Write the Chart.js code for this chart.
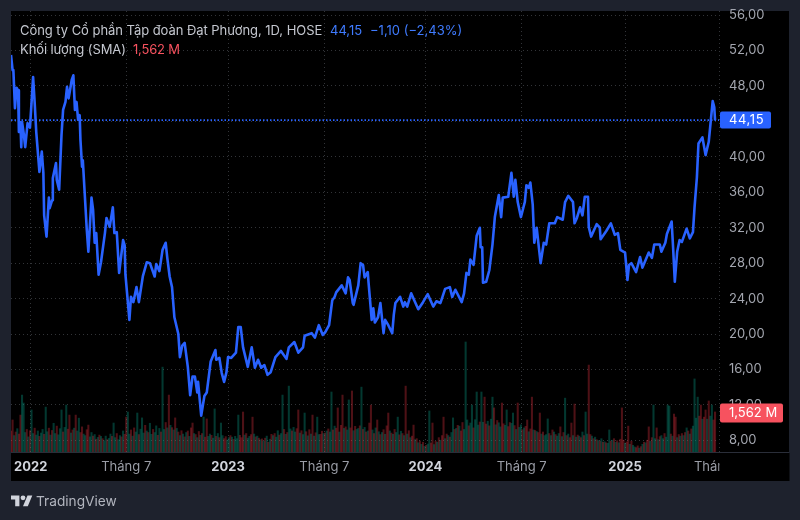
<!DOCTYPE html>
<html lang="vi">
<head>
<meta charset="utf-8">
<title>DPG</title>
<script src="https://cdn.jsdelivr.net/npm/chart.js@4"></script>
<style>
html,body{margin:0;padding:0;width:800px;height:520px;overflow:hidden;background:#1e222d;font-family:Inter,"Noto Sans",sans-serif}
#panel{position:absolute;left:11px;top:11px;width:778px;height:470px;background:#000}
canvas{position:absolute;left:0;top:0}
.t{position:absolute;font-size:13px;line-height:18px;white-space:nowrap;color:#c4c7cf}
#logo{position:absolute;left:11px;top:492.6px}
#brand{position:absolute;left:36px;top:491px;font-size:13.7px;line-height:20px;color:#b2b5be}
</style>
</head>
<body>
<div id="panel"></div>
<canvas id="c" width="800" height="520"></canvas>
<div class="t" style="left:20px;top:21px;letter-spacing:-0.05px">Công ty Cổ phần Tập đoàn Đạt Phương, 1D, HOSE</div>
<div class="t" style="left:330px;top:21px;color:#3f7bff">44,15</div>
<div class="t" style="left:370px;top:21px;color:#3f7bff">−1,10 (−2,43%)</div>
<div class="t" style="left:20px;top:40px;letter-spacing:-0.1px">Khối lượng (SMA)</div>
<div class="t" style="left:133px;top:40px;color:#f7525f;letter-spacing:-0.2px">1,562 M</div>
<svg id="logo" width="21.6" height="16.8" viewBox="0 0 36 28"><path fill="#d1d4dc" d="M14 22H7V11H0V4h14v18zM28 22h-8l7.5-18h8L28 22z"/><circle fill="#d1d4dc" cx="20" cy="8" r="4"/></svg>
<div id="brand">TradingView</div>
<script>
// Session index on the time axis (0 = first session of 2022)
const timeTicks  = [0, 121, 250, 372, 500, 622, 753, 872];
const timeLabels = ['2022', 'Tháng 7', '2023', 'Tháng 7', '2024', 'Tháng 7', '2025', 'Tháng 7'];
const priceTicks = [8, 12, 16, 20, 24, 28, 32, 36, 40, 44, 48, 52, 56];
const currentPrice = 44.15;

const priceDays = [
-25,-23,-22,-20,-18,-16,-15,-13,-12,-11,-9,-7,-4,-1,1,3,5,7,11,14,16,17,20,23,24,27,28,32,33,36,
39,41,44,46,48,52,54,56,58,60,62,63,65,66,71,73,77,79,81,83,86,89,94,96,100,104,106,109,112,117,
119,120,125,127,130,134,137,142,147,151,157,159,163,167,171,173,176,179,182,187,189,192,195,199,202,205,208,211,212,216,
220,223,228,234,235,239,242,245,248,250,254,260,263,266,269,275,280,284,288,292,296,300,304,310,317,324,327,334,339,345,
347,356,360,365,370,373,378,382,385,387,394,399,402,404,408,409,415,418,421,423,427,428,432,434,436,440,443,447,449,453,
458,460,462,468,472,474,477,482,487,491,497,503,510,514,519,525,531,534,538,546,549,552,555,557,561,565,569,570,572,573,
577,581,585,588,593,596,598,605,609,612,614,617,621,626,628,631,633,636,638,641,646,650,653,657,664,667,674,677,681,687,
689,692,696,699,702,706,707,710,717,721,722,729,735,740,744,747,753,756,758,761,767,772,775,783,787,790,797,799,804,806,
812,814,816,819,822,825,831,835,839,841,844,846,851,855,859,864,866,867];
const priceValues = [
51.5,49.8,49.8,45.5,47.8,47.5,42.8,43.9,41.1,43.9,42.7,41.1,43.8,43.3,46.1,49.0,46.1,42.8,38.3,40.6,38.2,33.4,31.0,35.4,34.2,35.1,37.6,39.3,37.4,36.3,
42.5,45.3,46.2,47.9,46.6,48.7,49.2,45.3,46.2,44.2,44.7,41.9,38.9,39.6,31.8,29.3,35.4,34.0,30.3,31.4,26.7,28.1,31.4,33.1,32.1,34.3,31.4,31.5,26.9,30.6,
30.0,26.7,21.6,24.2,23.6,25.3,23.6,26.5,28.1,28.0,26.5,27.9,27.1,29.5,30.3,28.6,26.5,25.3,21.9,20.0,17.4,18.7,19.0,16.3,13.1,15.2,15.2,13.4,14.6,10.8,
13.0,13.4,16.9,18.2,17.1,17.3,15.6,14.6,15.7,17.4,17.3,17.9,20.8,20.8,18.5,16.3,18.5,16.2,17.1,16.2,16.5,15.4,15.7,17.4,18.1,17.2,18.5,19.1,17.9,18.5,
19.8,20.1,19.6,21.0,19.9,20.2,21.0,23.8,24.2,24.7,25.5,24.6,26.4,26.1,23.5,23.3,25.5,28.0,27.8,26.4,27.0,25.8,21.6,22.9,21.3,21.9,23.5,20.1,21.6,21.0,
20.1,22.2,23.5,24.2,23.1,23.6,23.1,24.6,23.6,22.8,23.6,24.5,23.1,23.7,23.5,25.1,25.3,24.2,25.0,23.6,24.6,26.9,26.7,28.4,27.8,31.1,32.0,29.8,29.8,25.8,
25.9,27.2,30.1,33.2,35.7,33.2,35.4,35.5,38.2,35.5,37.4,34.9,33.2,34.9,36.8,36.5,37.1,34.6,30.3,32.0,28.0,30.3,30.1,32.5,32.5,33.2,32.9,34.9,35.6,34.9,
32.5,33.1,34.3,33.4,35.5,35.5,32.1,31.0,32.4,32.0,30.7,31.6,32.5,31.2,31.4,29.5,29.2,26.1,27.8,28.0,27.0,28.7,27.5,29.2,28.6,30.1,30.1,29.3,30.3,31.3,
32.7,29.5,25.9,29.3,30.6,30.4,31.9,30.8,31.5,34.3,37.7,41.5,42.2,40.2,41.7,46.3,45.6,44.15];

// Volume in thousand shares, every second session; negative = down day (red)
const volumeSigned = [
-820,-1250,640,-780,910,-700,-1440,2220,1910,760,-880,590,-830,1640,720,-930,660,820,-610,740,
880,-690,1750,790,-930,660,-840,1120,720,-1010,670,910,1640,-780,960,1830,-890,-1440,740,-860,
930,-1440,820,1320,-760,-980,700,640,-870,-1050,590,760,-620,680,-500,570,-660,610,-520,440,
620,-480,530,700,-610,1130,560,-720,480,640,-590,820,-690,-1360,1560,700,-860,620,-940,780,
1520,-680,890,1330,740,-1040,820,-760,1120,690,-880,760,1020,-650,920,-780,3310,880,-1150,940,
-2220,1040,-950,860,-1330,920,-780,640,-830,700,-590,760,-820,610,-940,-1130,720,-680,560,-800,
650,-720,1360,-580,-1290,610,700,-650,540,1680,-610,720,-560,1130,640,-520,-600,470,560,-640,
580,-490,610,520,1440,-650,-560,-1560,660,-720,540,610,-680,-1360,700,-590,620,-540,480,-510,
420,-540,620,-380,500,-690,640,-720,580,830,-660,720,2220,-880,690,-760,2570,900,-820,960,
780,-910,-1640,740,-830,680,1520,-790,630,-870,700,-1440,620,-750,1360,680,-690,-810,720,-740,
820,-900,780,2340,-860,1010,-930,-1720,780,-1040,-2220,920,-980,860,2030,-940,-2380,830,-1000,880,
920,-1020,2530,-880,960,-780,820,-1130,-1830,860,-720,940,-1250,790,-680,760,-870,690,-1020,-1520,
820,-740,690,-880,760,1360,-670,810,-720,640,-2570,700,-830,560,-620,-1050,480,-520,360,-430,
300,-380,220,-260,310,1600,-350,-1130,290,-420,380,-560,460,-640,-1360,520,-700,640,-580,760,
1330,-880,920,-1040,1010,-820,-1150,880,4290,1250,-1020,1130,1830,-940,1260,2340,1050,-1170,2340,1160,
-2140,-1090,1200,-1020,1280,2140,-1720,1060,-1230,1140,980,-1910,-1100,1040,1640,-990,-1150,1120,1520,-1030,
880,-1910,960,1060,-870,940,-1000,-1250,790,-900,-2140,860,-840,800,-760,-1520,700,-780,640,680,
1290,-720,640,-860,780,-680,620,720,-980,600,-760,2100,-640,700,-560,-1130,640,-1870,580,-660,
620,-560,780,-640,1560,700,-3390,-680,620,-520,580,-480,450,-420,520,-380,400,-360,340,860,
-420,460,-520,380,-440,360,-500,-1720,-460,340,-390,-1010,300,-420,260,200,-170,-240,150,-210,
300,-380,360,-460,-980,420,-560,1830,520,-940,480,-600,640,520,-720,580,1830,1790,-700,620,
-1480,-1360,560,-680,620,-720,640,-760,940,-820,700,-900,1010,2850,1320,2140,-1400,-1830,1280,-1360,
-1640,1280,-1990,1400,1830,-1250,-1562];
const volumeFirstDay = -25, volumeDayStep = 2;

const fmt = v => v.toFixed(2).replace('.', ',');

const overlays = {
  id: 'overlays',
  afterDraw(chart) {
    const c = chart.ctx, y = chart.scales.y, a = chart.chartArea;
    c.save();
    c.fillStyle = '#000';
    c.fillRect(a.right + 0.5, a.bottom + 1, 70, 28);
    c.fillStyle = '#2a2e39';
    c.fillRect(11, a.bottom, 778, 1);
    const py = y.getPixelForValue(currentPrice);
    c.fillStyle = '#2962ff';
    c.beginPath(); c.roundRect(720, py - 8.5, 51, 17, 2); c.fill();
    c.fillStyle = '#fff';
    c.font = '13px Inter, "Noto Sans", sans-serif';
    c.letterSpacing = '0.6px';
    c.textBaseline = 'middle'; c.textAlign = 'left';
    c.fillText(fmt(currentPrice), 729, py + 0.5);
    const vy = chart.scales.y1.getPixelForValue(Math.abs(volumeSigned[volumeSigned.length - 1]));
    c.fillStyle = '#f7525f';
    c.beginPath(); c.roundRect(720, vy - 8.5, 63, 19, 2); c.fill();
    c.fillStyle = '#fff';
    c.letterSpacing = '0px';
    c.fillText('1,562 M', 729, vy + 1);
    c.restore();
  }
};

new Chart(document.getElementById('c'), {
  type: 'line',
  data: {
    datasets: [
      {
        type: 'line', label: 'Giá', order: 1,
        data: priceDays.map((d, i) => ({x: d, y: priceValues[i]})),
        borderColor: '#2962ff', borderWidth: 2.6, pointRadius: 0, tension: 0,
        borderJoinStyle: 'round', yAxisID: 'y', xAxisID: 'x'
      },
      {
        type: 'line', label: 'Giá hiện tại', order: 2,
        data: [{x: -25, y: currentPrice}, {x: 872, y: currentPrice}],
        borderColor: '#2962ff', borderWidth: 1.6, borderDash: [1.5, 2], pointRadius: 0,
        yAxisID: 'y', xAxisID: 'x'
      },
      {
        type: 'bar', label: 'Khối lượng', order: 3,
        data: volumeSigned.map((v, i) => ({x: volumeFirstDay + i * volumeDayStep, y: Math.abs(v)})),
        backgroundColor: volumeSigned.map(v => v < 0 ? 'rgba(242,54,69,0.32)' : 'rgba(8,153,129,0.37)'),
        barThickness: 1.4, grouped: false, borderWidth: 0,
        yAxisID: 'y1', xAxisID: 'x'
      }
    ]
  },
  options: {
    responsive: false,
    animation: false,
    layout: {padding: {left: 11, right: 11, top: 11, bottom: 39}},
    plugins: {legend: {display: false}, tooltip: {enabled: false}},
    scales: {
      x: {
        type: 'linear', min: -25, max: 872, offset: false,
        afterBuildTicks: s => { s.ticks = timeTicks.map(v => ({value: v})); },
        afterFit: s => { s.height = 29; s.paddingLeft = 0; s.paddingRight = 0; },
        grid: {color: 'rgba(120,123,134,0.42)', drawTicks: false, offset: false, tickBorderDash: [], z: 0},
        border: {display: false, dash: [1, 3]},
        ticks: {
          autoSkip: false, maxRotation: 0, minRotation: 0, padding: 7,
          callback: v => timeLabels[timeTicks.indexOf(v)],
          font: ctx => ({family: 'Inter, "Noto Sans", sans-serif', size: 13,
            weight: /^\d/.test(timeLabels[ctx.index] || '') ? '700' : '400'}),
          color: ctx => /^\d/.test(timeLabels[ctx.index] || '') ? '#d1d4dc' : '#9a9da6'
        }
      },
      y: {
        position: 'right', min: 6.69, max: 56.46,
        afterBuildTicks: s => { s.ticks = priceTicks.map(v => ({value: v})); },
        afterFit: s => { s.width = 70; s.paddingTop = 0; s.paddingBottom = 0; },
        grid: {color: 'rgba(120,123,134,0.42)', drawTicks: false, z: 0},
        border: {display: false, dash: [1, 3]},
        ticks: {
          padding: 10, crossAlign: 'near', color: '#a3a6af',
          font: {family: 'Inter, "Noto Sans", sans-serif', size: 13},
          callback: v => fmt(v)
        }
      },
      y1: {display: false, position: 'right', min: 0, max: 17200,
        afterFit: s => { s.paddingTop = 0; s.paddingBottom = 0; }}
    }
  },
  plugins: [overlays]
});
</script>
</body>
</html>
